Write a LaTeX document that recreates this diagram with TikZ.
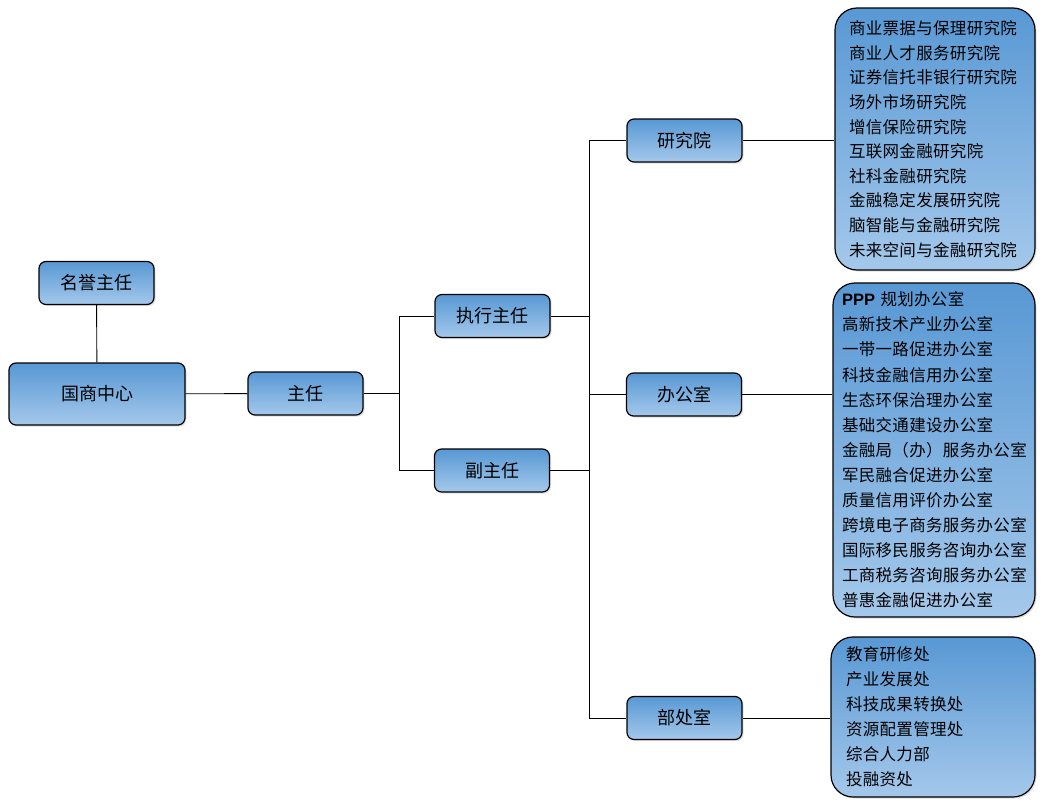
\documentclass[tikz,border=0pt]{standalone}
\usepackage{fontspec}
\setmainfont{Noto Sans CJK SC}
\newfontfamily\latinfont{Liberation Sans}
\usetikzlibrary{shadows}
\definecolor{boxtop}{RGB}{88,152,212}
\definecolor{boxbot}{RGB}{164,200,235}
\tikzset{
  unit/.style={draw=black,line width=1.2pt,rounded corners=7pt,top color=boxtop,bottom color=boxbot,
    drop shadow={shadow xshift=1.5pt,shadow yshift=-1.5pt,opacity=0.25},
    minimum width=115pt,minimum height=43pt,inner sep=0pt,font=\fontsize{18}{20}\selectfont},
  listbox/.style={unit,rounded corners=22pt,align=left,inner ysep=0pt,font=\fontsize{16.5}{24.6}\selectfont\addfontfeature{LetterSpace=2}},
  link/.style={line width=0.9pt}
}
\begin{document}
\begin{tikzpicture}[x=1pt,y=-1pt]
\useasboundingbox (0,0) rectangle (1045,806);
%left part
\node[unit](hon) at (96.5,283){名誉主任};
\node[unit,minimum width=176pt,minimum height=62pt](center) at (97,394){国商中心};
\node[unit](dir) at (305.5,393.5){主任};
\node[unit](exec) at (492.5,316){执行主任};
\node[unit](vice) at (492,470.5){副主任};
%middle
\node[unit](inst) at (684.5,140.5){研究院};
\node[unit](office) at (684,394.5){办公室};
\node[unit](dept) at (684.5,718){部处室};
%lists
\node[listbox,inner xsep=14pt,text width=172pt,minimum height=262pt](instlist) at (935,139){商业票据与保理研究院\\商业人才服务研究院\\证券信托非银行研究院\\场外市场研究院\\增信保险研究院\\互联网金融研究院\\社科金融研究院\\金融稳定发展研究院\\脑智能与金融研究院\\未来空间与金融研究院};
\node[listbox,inner xsep=9pt,text width=184pt,minimum height=334pt,font=\fontsize{16.5}{25.1}\selectfont\addfontfeature{LetterSpace=2}](officelist) at (934,450){{\latinfont\bfseries PPP} 规划办公室\\高新技术产业办公室\\一带一路促进办公室\\科技金融信用办公室\\生态环保治理办公室\\基础交通建设办公室\\金融局（办）服务办公室\\军民融合促进办公室\\质量信用评价办公室\\跨境电子商务服务办公室\\国际移民服务咨询办公室\\工商税务咨询服务办公室\\普惠金融促进办公室};
\node[listbox,inner xsep=15pt,text width=174pt,minimum height=160pt,font=\fontsize{16.5}{25}\selectfont\addfontfeature{LetterSpace=2}](deptlist) at (933,717){教育研修处\\产业发展处\\科技成果转换处\\资源配置管理处\\综合人力部\\投融资处};
%connectors
\coordinate (b1) at (399,393.5);
\coordinate (b2) at (589,316);
\draw[link](hon)--(center);
\draw[link](center)--(dir);
\draw[link](dir.east)--(b1);
\draw[link](b1)|-(exec.west);
\draw[link](b1)|-(vice.west);
\draw[link](exec.east)--(b2);
\draw[link](vice.east)-|(b2);
\draw[link](b2)|-(inst.west);
\draw[link](b2)|-(office.west);
\draw[link](b2)|-(dept.west);
\draw[link](inst)--(inst-|instlist.west);
\draw[link](office)--(office-|officelist.west);
\draw[link](dept)--(dept-|deptlist.west);
\end{tikzpicture}
\end{document}
